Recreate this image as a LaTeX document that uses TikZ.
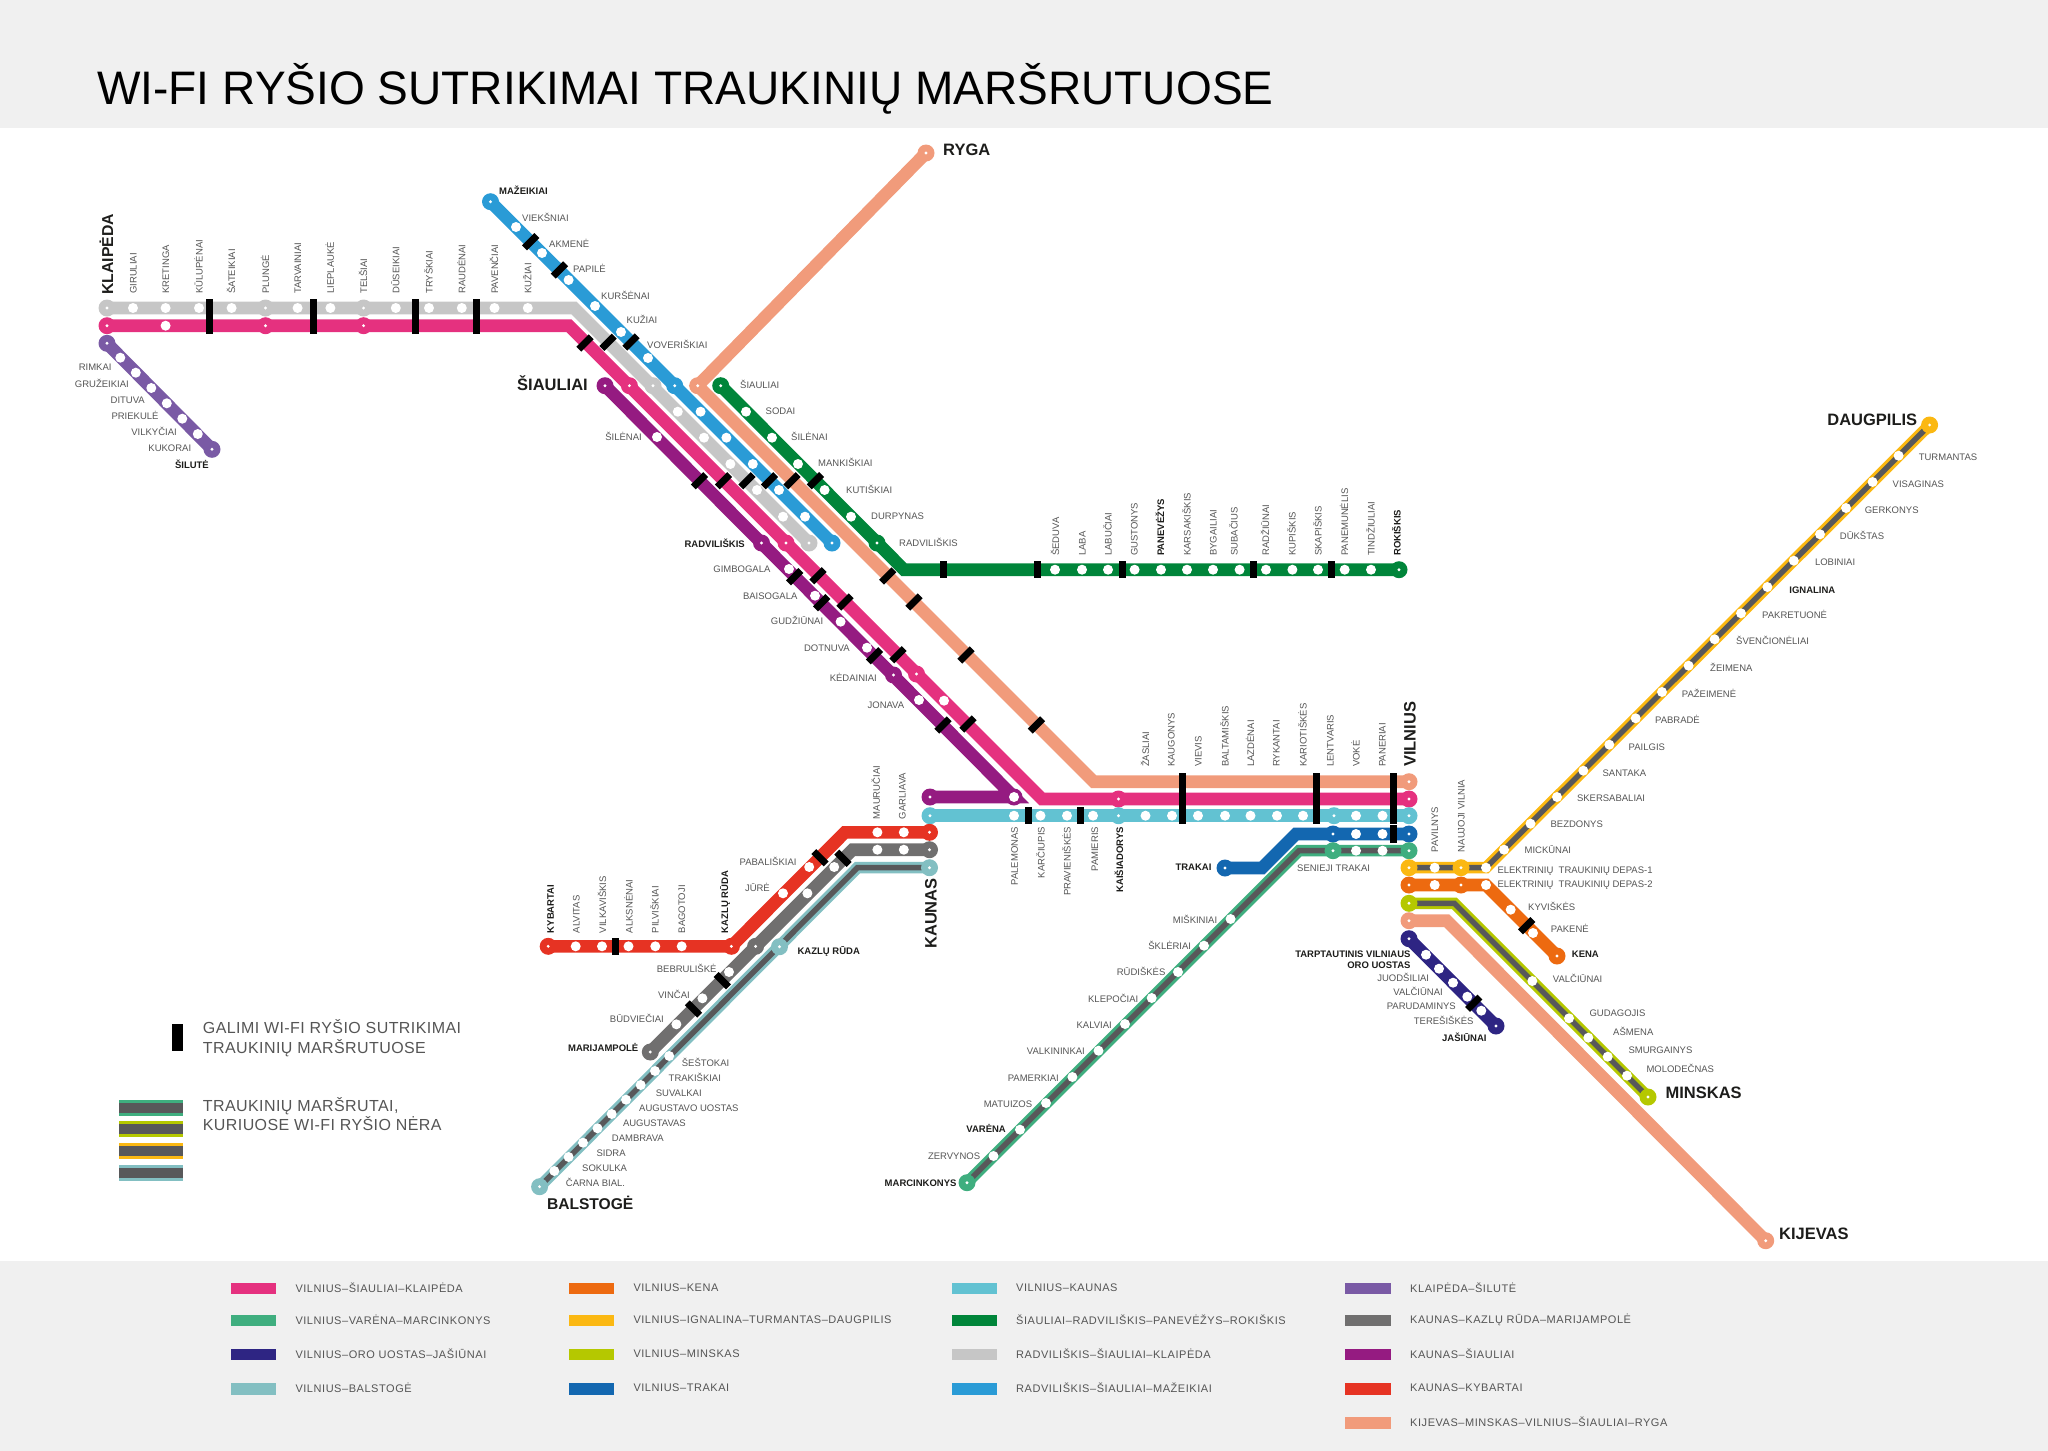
\documentclass[tikz,border=0pt]{standalone}
\usepackage{fontspec}
\setmainfont{Liberation Sans}
\newfontfamily\legfont[LetterSpace=2.6]{Liberation Sans}
\newfontfamily\keyfont[LetterSpace=5]{Liberation Sans}
\newfontfamily\titlefont[FakeStretch=0.98]{Liberation Sans}
\definecolor{bandc}{HTML}{F0F0F0}
\definecolor{labelc}{HTML}{555555}
\definecolor{darkc}{HTML}{1D1D1B}
\definecolor{innerc}{HTML}{58585A}
\definecolor{pinkc}{HTML}{E5317F}
\definecolor{grayc}{HTML}{C6C6C6}
\definecolor{bluec}{HTML}{2A9BD6}
\definecolor{peachc}{HTML}{F19B7B}
\definecolor{forestc}{HTML}{00853A}
\definecolor{violetc}{HTML}{951B81}
\definecolor{cyanc}{HTML}{62C2D2}
\definecolor{royalc}{HTML}{1367B0}
\definecolor{jadec}{HTML}{3FAE7F}
\definecolor{yellowc}{HTML}{FBB812}
\definecolor{orangec}{HTML}{ED6A10}
\definecolor{limec}{HTML}{B5C800}
\definecolor{navyc}{HTML}{2E2583}
\definecolor{redc}{HTML}{E63323}
\definecolor{taupec}{HTML}{706F6F}
\definecolor{tealc}{HTML}{83BFC2}
\definecolor{lavc}{HTML}{7A5AA5}

\begin{document}
\begin{tikzpicture}[x=1pt, y=-1pt,
    rt/.style={line width=12.6pt},
    rtn/.style={line width=11.5pt},
    rti/.style={line width=5.5pt, draw=innerc},
    st/.style={circle, fill=white, minimum size=10pt, inner sep=0pt},
    term/.style={circle, fill=#1, minimum size=17pt, inner sep=0pt,
      path picture={\fill[white] (path picture bounding box.center) circle (1.6pt);}},
    blob/.style={circle, fill=#1, minimum size=17pt, inner sep=0pt},
    brk/.style={rectangle, fill=black, minimum width=7pt, minimum height=17.5pt, inner sep=0pt},
    stn/.style={font=\fontsize{9.5}{11}\selectfont, text=labelc, inner sep=0pt, text height=7pt, text depth=0pt},
    stb/.style={font=\fontsize{9.5}{11}\selectfont\bfseries, text=darkc, inner sep=0pt, text height=7pt, text depth=0pt},
    big/.style={font=\fontsize{16.5}{18}\selectfont\bfseries, text=darkc, inner sep=0pt, text height=12pt, text depth=0pt},
    keyb/.style={rectangle, minimum width=45.5pt, minimum height=11.7pt, inner sep=0pt},
    keyt/.style={font=\keyfont\fontsize{11}{13}\selectfont, text=labelc, inner sep=0pt, anchor=west},
    legt/.style={font=\legfont\fontsize{16}{19.7}\selectfont, text=labelc, inner sep=0pt, anchor=west, align=left}]

  \useasboundingbox (0,0) rectangle (2048,1451);
  \fill[bandc] (0,0) rectangle (2048,128);
  \fill[bandc] (0,1261) rectangle (2048,1451);
  \node[font=\titlefont\fontsize{47}{54}\selectfont, text=black, inner sep=0pt, anchor=base west] (title) at (97,104) {WI-FI RYŠIO SUTRIKIMAI TRAUKINIŲ MARŠRUTUOSE};

  % ── line ends and bends ──
  \coordinate (grA) at (107,308);     \coordinate (grB) at (574,308);     \coordinate (grC) at (809,543);
  \coordinate (pkA) at (107,325.7);   \coordinate (pkB) at (569,325.7);   \coordinate (pkC) at (1042,799);    \coordinate (pkD) at (1409,799);
  \coordinate (blA) at (490.5,201.7); \coordinate (blB) at (832,543);
  \coordinate (ryA) at (926,153);     \coordinate (ryB) at (697.7,385.7); \coordinate (ryC) at (1093.7,781.7);\coordinate (ryD) at (1409,781.7);
  \coordinate (foA) at (720.7,385.7); \coordinate (foB) at (904,569.7);   \coordinate (foC) at (1399,569.7);
  \coordinate (viA) at (605,385.7);   \coordinate (viB) at (1014,797);    \coordinate (viC) at (930,797);
  \coordinate (cyA) at (930,815.7);   \coordinate (cyB) at (1409,815.7);
  \coordinate (roA) at (1225,868);    \coordinate (roB) at (1262,868);    \coordinate (roC) at (1296,834);    \coordinate (roD) at (1409,834);
  \coordinate (jaA) at (967,1182.7);  \coordinate (jaB) at (1299,850.7);  \coordinate (jaC) at (1409,850.7);
  \coordinate (yeA) at (1409,867.7);  \coordinate (yeB) at (1486,867.7);  \coordinate (yeC) at (1929.6,425);
  \coordinate (orA) at (1409,885);    \coordinate (orB) at (1486,885);    \coordinate (orC) at (1557,956);
  \coordinate (liA) at (1409,903.3);  \coordinate (liB) at (1454.3,903.3);\coordinate (liC) at (1648,1097);
  \coordinate (kjA) at (1409,920.7);  \coordinate (kjB) at (1446.7,920.7);\coordinate (kjC) at (1765.7,1240.7);
  \coordinate (naA) at (1409,938.7);  \coordinate (naB) at (1496,1026);
  \coordinate (reA) at (548.2,946.3); \coordinate (reB) at (731.4,946.3); \coordinate (reC) at (845,832.3);   \coordinate (reD) at (929.5,832.3);
  \coordinate (taA) at (650.3,1052);  \coordinate (taB) at (852.6,849.7); \coordinate (taC) at (929.5,849.7);
  \coordinate (teA) at (539.6,1186.7);\coordinate (teB) at (857.4,867.7); \coordinate (teC) at (929.5,867.7);
  \coordinate (laA) at (107,343.3);   \coordinate (laB) at (212,449.3);

  % ── routes ──
  \draw[rt, draw=lavc] (laA) -- (laB);
  \draw[rt, draw=grayc] (grA) -- (grB) -- (grC);
  \draw[rt, draw=pinkc] (pkA) -- (pkB) -- (pkC) -- (pkD);
  \draw[rt, draw=bluec] (blA) -- (blB);
  \draw[rt, draw=peachc] (ryA) -- (ryB) -- (ryC) -- (ryD);
  \draw[rt, draw=forestc] (foA) -- (foB) -- (foC);
  \draw[rt, draw=violetc] (viA) -- (viB) -- (viC);
  \draw[rt, draw=cyanc] (cyA) -- (cyB);
  \draw[rt, draw=royalc] (roA) -- (roB) -- (roC) -- (roD);
  \draw[rt, draw=orangec] (orA) -- (orB) -- (orC);
  \draw[rt, draw=peachc] (kjA) -- (kjB) -- (kjC);
  \draw[rt, draw=navyc] (naA) -- (naB);
  \draw[rt, draw=redc] (reA) -- (reB) -- (reC) -- (reD);
  \draw[rt, draw=taupec] (taA) -- (taB) -- (taC);
  \draw[rtn, draw=jadec] (jaA) -- (jaB) -- (jaC);   \draw[rti] (jaA) -- (jaB) -- (jaC);
  \draw[rtn, draw=yellowc] (yeA) -- (yeB) -- (yeC); \draw[rti] (yeA) -- (yeB) -- (yeC);
  \draw[rtn, draw=limec] (liA) -- (liB) -- (liC);   \draw[rti] (liA) -- (liB) -- (liC);
  \draw[rtn, draw=tealc] (teA) -- (teB) -- (teC);   \draw[rti] (teA) -- (teB) -- (teC);

  % ── gaps in the signal ──
  \foreach \x [count=\i] in {209.8,313.7,415.9,476} {
    \node[brk] (bg\i) at (\x,308) {};
    \node[brk] (bp\i) at (\x,325.7) {};
  }
  \foreach \x [count=\i] in {943,1037.6,1122.5,1253.4,1331}
    \node[brk] (bf\i) at (\x,569.7) {};
  \foreach \x [count=\i] in {1182,1316,1393.5} {
    \node[brk] (bv\i) at (\x,781.7) {};
    \node[brk] (bw\i) at (\x,799) {};
    \node[brk] (bc\i) at (\x,815.7) {};
  }
  \foreach \x [count=\i] in {1028,1080.6} \node[brk] (bk\i) at (\x,815.7) {};
  \node[brk] (bt1) at (1393.5,834) {};
  \node[brk] (br1) at (615.3,946.3) {};
  \foreach \x/\y [count=\i] in {530.7/241.7,559.4/270,631/342,769.5/480.7,
      608/342.3,747/480.7,585/343,723.5/480.7,818/575.7,845/602,898/654.7,968/724,
      699.5/480.7,794.7/576.7,821.7/602.7,874.5/655.7,943/725,
      792/480.7,887.7/576,914/602,966/655,1036.4/725,815.4/480.7,
      1526.7/925.7,1473.7/1003.3}
    \node[brk, rotate=-45] (bd\i) at (\x,\y) {};
  \foreach \x/\y [count=\i] in {820/857.7,843/858.3,722.4/980.7,693.5/1009}
    \node[brk, rotate=45] (bu\i) at (\x,\y) {};

  % ── white stops ──
  \foreach \x/\y [count=\i] in {133/308,165.6/308,199/308,231.6/308,297.6/308,330.4/308,395.8/308,429/308,461.8/308,494.5/308,527.8/308,
      677.8/411.7,704/437.7,730.4/464,757/490,783/516.7,165.6/325.7,944/700.7}
    \node[st] (sg\i) at (\x,\y) {};
  \foreach \x/\y [count=\i] in {516/227,542/253,568.6/280,595/306,621/332,648/358,700.6/411.7,726.4/437.7,752.8/464,779/490,805/516.7}
    \node[st] (sb\i) at (\x,\y) {};
  \foreach \x/\y [count=\i] in {746/411.7,772/437.7,798/464,824.6/490,851/516.7,1055/569.7,1082/569.7,1108/569.7,1134.6/569.7,1161/569.7,1187/569.7,1213/569.7,1239.6/569.7,1266/569.7,1292.4/569.7,1318/569.7,1344.7/569.7,1371/569.7}
    \node[st] (sf\i) at (\x,\y) {};
  \node[blob=violetc] (vend) at (1014,797) {};
  \foreach \x/\y [count=\i] in {657/437,789/569,815/595.7,840.6/621.7,867/647.7,919/700,1014/797}
    \node[st] (sv\i) at (\x,\y) {};
  \foreach \x [count=\i] in {1014,1040.5,1067,1093,1145.5,1172,1198,1225,1250.5,1277,1303,1356,1382.5}
    \node[st] (sc\i) at (\x,815.7) {};
  \foreach \x [count=\i] in {1356,1382.5} {
    \node[st] (sr\i) at (\x,834) {};
    \node[st] (sj\i) at (\x,850.7) {};
  }
  \foreach \x/\y [count=\i] in {1230.6/919,1204/945.7,1178/972,1151.7/998,1125/1024,1098.5/1050.7,1072.4/1077,1046/1103,1020/1129.7,993.5/1156}
    \node[st] (sk\i) at (\x,\y) {};
  \foreach \x/\y [count=\i] in {1434.7/867.7,1486/867.7,1504/849.7,1530.5/823.7,1557/797,1583.3/770.7,1609.3/744.7,1635.7/718.3,1662/692,1688.6/665.7,1714.6/639.3,1741/613.3,1767.4/587,1793.8/560.7,1820/534.3,1846/508,1872.6/482,1898.6/455.7}
    \node[st] (sy\i) at (\x,\y) {};
  \foreach \x/\y [count=\i] in {1434.7/885,1486/885,1510.7/909.7,1533/933,1532.3/981,1569/1018.3,1588.3/1037.7,1607.7/1056.7,1627/1075.7}
    \node[st] (so\i) at (\x,\y) {};
  \foreach \x/\y [count=\i] in {1426/954.7,1439/968.7,1453/982.7,1467.3/996.7,1481.3/1010.7}
    \node[st] (sn\i) at (\x,\y) {};
  \foreach \x/\y [count=\i] in {575.7/946.3,602/946.3,628.5/946.3,655.3/946.3,681.7/946.3,783/893.3,809.2/867,877.4/832.3,903.8/832.3,
      877.4/849.7,903.8/849.7,834.2/867,807.4/893.3,729/972,702.4/998.3,676.4/1024.3}
    \node[st] (sq\i) at (\x,\y) {};
  \foreach \x/\y [count=\i] in {669.2/1056,655/1071,640.7/1085,626/1099.7,611.7/1114,597.5/1128.3,583/1142.7,568.6/1157,554.3/1171}
    \node[st] (st\i) at (\x,\y) {};
  \foreach \x/\y [count=\i] in {120.3/357.7,135.8/372.7,151.3/388,166.8/403.3,182.3/418.7,197.8/434}
    \node[st] (sl\i) at (\x,\y) {};

  % ── termini and large stops ──
  \foreach \x/\y [count=\i] in {107/308,265.5/308,363.6/308,653/385.7,809/543} \node[term=grayc] (tg\i) at (\x,\y) {};
  \foreach \x/\y [count=\i] in {107/325.7,265.5/325.7,363.6/325.7,629.4/385.7,786/543,916.5/674,1118.5/799,1409/799} \node[term=pinkc] (tp\i) at (\x,\y) {};
  \foreach \x/\y [count=\i] in {490.5/201.7,674.7/385.7,832/543} \node[term=bluec] (tb\i) at (\x,\y) {};
  \foreach \x/\y [count=\i] in {926/153,697.7/385.7,1409/781.7,1409/920.7,1765.7/1240.7} \node[term=peachc] (tr\i) at (\x,\y) {};
  \foreach \x/\y [count=\i] in {720.7/385.7,877/543,1399/569.7} \node[term=forestc] (tf\i) at (\x,\y) {};
  \foreach \x/\y [count=\i] in {605/385.7,761.5/543,893.5/675,930/797} \node[term=violetc] (tv\i) at (\x,\y) {};
  \foreach \x/\y [count=\i] in {930/815.7,1118.5/815.7,1334/815.7,1409/815.7} \node[term=cyanc] (tc\i) at (\x,\y) {};
  \foreach \x/\y [count=\i] in {1225/868,1333/834,1409/834} \node[term=royalc] (to\i) at (\x,\y) {};
  \foreach \x/\y [count=\i] in {967/1182.7,1333/850.7,1409/850.7} \node[term=jadec] (tj\i) at (\x,\y) {};
  \foreach \x/\y [count=\i] in {1409/867.7,1461/867.7,1929.6/425} \node[term=yellowc] (ty\i) at (\x,\y) {};
  \foreach \x/\y [count=\i] in {1409/885,1461/885,1557/956} \node[term=orangec] (tn\i) at (\x,\y) {};
  \foreach \x/\y [count=\i] in {1409/903.3,1648/1097} \node[term=limec] (ti\i) at (\x,\y) {};
  \foreach \x/\y [count=\i] in {1409/938.7,1496/1026} \node[term=navyc] (ta\i) at (\x,\y) {};
  \foreach \x/\y [count=\i] in {548.2/946.3,731.4/946.3,929.5/832.3} \node[term=redc] (te\i) at (\x,\y) {};
  \foreach \x/\y [count=\i] in {650.3/1052,755.6/946.3,929.5/849.7} \node[term=taupec] (tu\i) at (\x,\y) {};
  \foreach \x/\y [count=\i] in {539.6/1186.7,779.5/946.7,929.5/867.7} \node[term=tealc] (tt\i) at (\x,\y) {};
  \foreach \x/\y [count=\i] in {107/343.3,212/449.3} \node[term=lavc] (tl\i) at (\x,\y) {};

  % ── labels standing on the line ──
  \foreach \x/\y/\lb [count=\i] in {133/294/GIRULIAI,165.6/294/KRETINGA,199/294/KŪLUPĖNAI,231.6/294/ŠATEIKIAI,265.5/294/PLUNGĖ,297.6/294/TARVAINIAI,330.4/294/LIEPLAUKĖ,363.6/294/TELŠIAI,395.8/294/DŪSEIKIAI,429/294/TRYŠKIAI,461.8/294/RAUDĖNAI,494.5/294/PAVENČIAI,527.8/294/KUŽIAI,
      1055.7/556/ŠEDUVA,1082/556/LABA,1108/556/LABUČIAI,1134/556/GUSTONYS,1187/556/KARSAKIŠKIS,1213/556/BYGAILIAI,1234/556/SUBAČIUS,1265.7/556/RADŽIŪNAI,1292/556/KUPIŠKIS,1318/556/SKAPIŠKIS,1344.7/556/PANEMUNĖLIS,1371/556/TINDŽIULIAI,
      1145.5/767/ŽASLIAI,1171/767/KAUGONYS,1198/767/VIEVIS,1225/767/BALTAMIŠKIS,1250.5/767/LAZDĖNAI,1276/767/RYKANTAI,1303/767/KARIOTIŠKĖS,1330/767/LENTVARIS,1356/767/VOKĖ,1382/767/PANERIAI,
      576/933.3/ALVITAS,602.5/933.3/VILKAVIŠKIS,629/933.3/ALKSNĖNAI,655/933.3/PILVIŠKIAI,681.7/933.3/BAGOTOJI,876.3/819.3/MAURUČIAI,902/819.3/GARLIAVA,
      1434.7/852.3/PAVILNYS,1461/852.3/NAUJOJI VILNIA}
    \node[stn, rotate=90, anchor=west] (vu\i) at (\x,\y) {\lb};
  \foreach \x/\y/\lb [count=\i] in {1160.7/556/PANEVĖŽYS,1397/556/ROKIŠKIS,550.3/933.3/KYBARTAI,724.6/933.3/KAZLŲ RŪDA}
    \node[stb, rotate=90, anchor=west] (vb\i) at (\x,\y) {\lb};
  \foreach \x/\lb [count=\i] in {1014.4/PALEMONAS,1041/KARČIUPIS,1067/PRAVIENIŠKĖS,1094.5/PAMIERIS}
    \node[stn, rotate=90, anchor=east] (vd\i) at (\x,826.7) {\lb};
  \node[stb, rotate=90, anchor=east] (vd5) at (1119.5,826.7) {KAIŠIADORYS};

  % ── labels to the right of the line ──
  \foreach \x/\y/\lb [count=\i] in {522/217.7/VIEKŠNIAI,549/244.3/AKMENĖ,573/268.7/PAPILĖ,601/296/KURŠĖNAI,626.5/320.3/KUŽIAI,647/345.3/VOVERIŠKIAI,
      740/385/ŠIAULIAI,765.5/411.3/SODAI,791/437.3/ŠILĖNAI,818/463.3/MANKIŠKIAI,846/489.7/KUTIŠKIAI,871/516/DURPYNAS,899/542.7/RADVILIŠKIS,
      681.7/1063/ŠEŠTOKAI,668.5/1078/TRAKIŠKIAI,655.7/1092.7/SUVALKAI,639/1107.7/AUGUSTAVO UOSTAS,622.8/1123/AUGUSTAVAS,611.7/1138/DAMBRAVA,596.4/1153/SIDRA,582/1168/SOKULKA,565.7/1183.3/ČARNA BIAL.,
      1297/867.7/SENIEJI TRAKAI,1497.3/870.3/ELEKTRINIŲ\ \ TRAUKINIŲ DEPAS-1,1497.3/883.7/ELEKTRINIŲ\ \ TRAUKINIŲ DEPAS-2,
      1528/906.7/KYVIŠKĖS,1550.7/929/PAKENĖ,1552.7/978.7/VALČIŪNAI,1589.3/1013.3/GUDAGOJIS,1613/1032/AŠMENA,1628.3/1050/SMURGAINYS,1646.3/1068.7/MOLODEČNAS,
      1918.6/457/TURMANTAS,1892.5/483.7/VISAGINAS,1864.6/509.7/GERKONYS,1839.7/536/DŪKŠTAS,1814.8/562.3/LOBINIAI,1762/614.7/PAKRETUONĖ,1736/641.3/ŠVENČIONĖLIAI,1710/667.7/ŽEIMENA,1681.7/693.7/PAŽEIMENĖ,1654.9/719.7/PABRADĖ,1628.5/746.7/PAILGIS,1602.4/772.7/SANTAKA,1576.8/798/SKERSABALIAI,1550.4/823.7/BEZDONYS,1524.4/850/MICKŪNAI}
    \node[stn, anchor=west] (lw\i) at (\x,\y) {\lb};
  \foreach \x/\y/\lb [count=\i] in {499/190.7/MAŽEIKIAI,797.4/951.3/KAZLŲ RŪDA,1571.7/954.3/KENA,1789.2/589.7/IGNALINA}
    \node[stb, anchor=west] (lb\i) at (\x,\y) {\lb};

  % ── labels to the left of the line ──
  \foreach \x/\y/\lb [count=\i] in {111.7/367.3/RIMKAI,129/383.7/GRUŽEIKIAI,145/399.7/DITUVA,158.7/416/PRIEKULĖ,177/432/VILKYČIAI,191.4/448/KUKORAI,
      642/437.3/ŠILĖNAI,770.6/569.3/GIMBOGALA,797.6/595.7/BAISOGALA,823.4/621.3/GUDŽIŪNAI,850/648/DOTNUVA,877/678.3/KĖDAINIAI,904.4/705.3/JONAVA,
      796.7/861.7/PABALIŠKIAI,770/888.3/JŪRĖ,716.7/969/BEBRULIŠKĖ,690/994.7/VINČAI,664/1019.3/BŪDVIEČIAI,
      1217.4/919.7/MIŠKINIAI,1191.3/945.7/ŠKLĖRIAI,1165.6/972.3/RŪDIŠKĖS,1138.5/998.7/KLEPOČIAI,1112/1024.7/KALVIAI,1085/1051/VALKININKAI,1059/1077.7/PAMERKIAI,1032.4/1103.7/MATUIZOS,980.3/1156.3/ZERVYNOS,
      1429.3/978.3/JUODŠILIAI,1443/992.3/VALČIŪNAI,1456/1006.3/PARUDAMINYS,1473.7/1020.7/TEREŠIŠKĖS}
    \node[stn, anchor=east] (le\i) at (\x,\y) {\lb};
  \foreach \x/\y/\lb [count=\i] in {209/464.7/ŠILUTĖ,745/543.7/RADVILIŠKIS,638.5/1047.7/MARIJAMPOLĖ,1006/1129.3/VARĖNA,956.7/1182.7/MARCINKONYS,1211.6/867/TRAKAI,
      1410.7/954.3/TARPTAUTINIS VILNIAUS,1410.7/965/ORO UOSTAS,1486.7/1037.7/JAŠIŪNAI}
    \node[stb, anchor=east] (lc\i) at (\x,\y) {\lb};

  % ── city names ──
  \node[big, font=\fontsize{15.8}{18}\selectfont\bfseries, rotate=90, anchor=west] (klaipeda) at (107,295) {KLAIPĖDA};
  \node[big, rotate=90, anchor=west] (vilnius) at (1409.5,767) {VILNIUS};
  \node[big, rotate=90, anchor=west] (kaunas) at (930.5,949) {KAUNAS};
  \node[big, anchor=east] (siauliai) at (588,384.7) {ŠIAULIAI};
  \node[big, anchor=east] (daugpilis) at (1917.4,419.3) {DAUGPILIS};
  \node[big, anchor=west] (ryga) at (943,149) {RYGA};
  \node[big, font=\fontsize{15.6}{18}\selectfont\bfseries, anchor=west] (balstoge) at (546.8,1203.3) {BALSTOGĖ};
  \node[big, anchor=west] (minskas) at (1665.4,1092) {MINSKAS};
  \node[big, anchor=west] (kijevas) at (1779,1233) {KIJEVAS};

  % ── legend on the map ──
  \node[rectangle, fill=black, minimum width=10.7pt, minimum height=26.7pt, inner sep=0pt] (lgbar) at (177.3,1037.4) {};
  \node[legt] (lgone) at (202.7,1038) {GALIMI WI-FI RYŠIO SUTRIKIMAI\\TRAUKINIŲ MARŠRUTUOSE};
  \foreach \y/\c [count=\i] in {1107.8/jadec,1129.3/limec,1151/yellowc,1172.7/tealc} {
    \node[rectangle, fill=\c, minimum width=63.7pt, minimum height=16pt, inner sep=0pt] (lgs\i) at (150.8,\y) {};
    \node[rectangle, fill=innerc, minimum width=63.7pt, minimum height=9.7pt, inner sep=0pt] (lgi\i) at (150.8,\y) {};
  }
  \node[legt] (lgtwo) at (202.7,1114) {TRAUKINIŲ MARŠRUTAI,\\KURIUOSE WI-FI RYŠIO NĖRA};

  % ── route key ──
  \foreach \y/\c/\lb [count=\i] in {1288.4/pinkc/VILNIUS–ŠIAULIAI–KLAIPĖDA,1320.4/jadec/VILNIUS–VARĖNA–MARCINKONYS,1354.4/navyc/VILNIUS–ORO UOSTAS–JAŠIŪNAI,1389/tealc/VILNIUS–BALSTOGĖ} {
    \node[keyb, fill=\c] (ka\i) at (253.4,\y) {};
    \node[keyt] (kta\i) at (295.3,\y-1) {\lb};
  }
  \foreach \y/\c/\lb [count=\i] in {1288.4/orangec/VILNIUS–KENA,1320.4/yellowc/VILNIUS–IGNALINA–TURMANTAS–DAUGPILIS,1354.4/limec/VILNIUS–MINSKAS,1389/royalc/VILNIUS–TRAKAI} {
    \node[keyb, fill=\c] (kb\i) at (591.3,\y) {};
    \node[keyt] (ktb\i) at (633.3,\y-1) {\lb};
  }
  \foreach \y/\c/\lb [count=\i] in {1288.4/cyanc/VILNIUS–KAUNAS,1320.4/forestc/ŠIAULIAI–RADVILIŠKIS–PANEVĖŽYS–ROKIŠKIS,1354.4/grayc/RADVILIŠKIS–ŠIAULIAI–KLAIPĖDA,1389/bluec/RADVILIŠKIS–ŠIAULIAI–MAŽEIKIAI} {
    \node[keyb, fill=\c] (kc\i) at (974.5,\y) {};
    \node[keyt] (ktc\i) at (1016,\y-1) {\lb};
  }
  \foreach \y/\c/\lb [count=\i] in {1288.4/lavc/KLAIPĖDA–ŠILUTĖ,1320.4/taupec/KAUNAS–KAZLŲ RŪDA–MARIJAMPOLĖ,1354.4/violetc/KAUNAS–ŠIAULIAI,1389/redc/KAUNAS–KYBARTAI,1423/peachc/KIJEVAS–MINSKAS–VILNIUS–ŠIAULIAI–RYGA} {
    \node[keyb, fill=\c] (kd\i) at (1367.8,\y) {};
    \node[keyt] (ktd\i) at (1410,\y-1) {\lb};
  }
\end{tikzpicture}
\end{document}
